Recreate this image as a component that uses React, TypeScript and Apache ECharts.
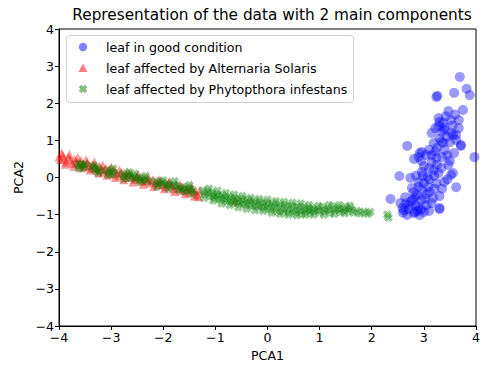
import React, { useEffect, useRef } from "react";
import * as echarts from "echarts";

const seriesNames = [
  "leaf in good condition",
  "leaf affected by Alternaria Solaris",
  "leaf affected by Phytopthora infestans",
];

const xTicks = [-4, -3, -2, -1, 0, 1, 2, 3, 4];
const yTicks = [-4, -3, -2, -1, 0, 1, 2, 3, 4];

const goodPoints: number[][] = [
  [3.69, 2.71], [3.82, 2.39], [3.88, 2.22], [3.26, 2.2], [3.58, 2.28], [3.75, 1.82],
  [3.47, 1.79], [3.67, 1.55], [3.28, 1.6], [3.52, 1.55], [3.37, 1.47], [3.22, 1.33],
  [3.34, 1.23], [3.52, 1.2], [3.67, 1.33], [3.62, 1.01], [3.71, 0.85], [2.68, 0.85],
  [3.19, 0.93], [3.37, 0.93], [2.96, 0.69], [3.05, 0.61], [2.9, 0.55], [2.81, 0.5],
  [3.24, 0.53], [3.58, 0.66], [3.97, 0.55], [3.47, 0.34], [3.34, 0.26], [3.19, 0.2],
  [2.96, 0.15], [3.07, 0.01], [3.52, 0.07], [2.53, 0.04], [2.74, -0.01], [2.9, -0.12],
  [3.24, -0.15], [3.39, -0.12], [3.62, -0.26], [2.77, -0.28], [2.96, -0.34], [3.11, -0.39],
  [3.3, -0.5], [2.64, -0.53], [2.83, -0.53], [2.36, -0.58], [3.02, -0.58], [2.55, -0.69],
  [2.72, -0.74], [2.9, -0.8], [3.15, -0.69], [3.3, -0.82], [2.62, -0.88], [2.81, -0.96],
  [3.0, -0.93], [2.68, -1.01], [2.92, -1.01], [3.15, 1.2], [3.62, 1.15], [3.71, 0.88],
  [2.92, 0.66], [3.15, 0.42], [3.28, 0.12], [3.56, 0.12], [3.05, -0.45], [2.87, -0.47],
  [2.59, -0.82], [2.83, -0.93], [3.3, -0.85], [3.24, 2.17], [3.39, 1.28], [3.56, 1.15],
  [3.34, 0.96], [2.7, -0.85], [2.75, -0.65], [2.85, -0.75], [2.95, -0.6], [3.05, -0.75],
  [3.1, -0.9], [2.8, -0.4], [2.9, -0.25], [3.0, -0.15], [3.1, -0.05], [3.2, 0.05],
  [2.85, 0.05], [3.0, 0.3], [3.1, 0.25], [3.25, 0.35], [3.35, 0.55], [3.45, 0.6],
  [3.1, 0.75], [3.25, 0.8], [3.3, 1.05], [3.45, 1.1], [3.4, 1.35], [3.55, 1.4],
  [3.3, 1.5], [3.42, 1.65], [3.6, 1.7], [2.65, -0.7], [2.6, -0.95], [2.95, -0.85],
  [3.2, -0.3], [3.35, -0.3], [3.45, -0.05], [2.95, 0.45], [3.15, 0.6], [3.4, 0.75],
  [3.5, 0.95], [2.78, -0.6], [2.88, -0.9], [3.08, -0.25], [3.18, -0.55], [2.98, 0.05],
  [3.22, 0.7], [3.28, 1.38], [3.5, 0.45],
];

const alternariaPoints: number[][] = [
  [-4.0, 0.55], [-3.97, 0.48], [-3.93, 0.6], [-3.9, 0.5], [-3.86, 0.42], [-3.82, 0.55],
  [-3.78, 0.47], [-3.74, 0.38], [-3.7, 0.5], [-3.66, 0.42], [-3.62, 0.35], [-3.58, 0.46],
  [-3.54, 0.38], [-3.5, 0.3], [-3.46, 0.4], [-3.42, 0.32], [-3.38, 0.25], [-3.34, 0.35],
  [-3.3, 0.27], [-3.26, 0.2], [-3.22, 0.3], [-3.18, 0.22], [-3.14, 0.15], [-3.1, 0.25],
  [-3.05, 0.18], [-3.0, 0.1], [-2.95, 0.2], [-2.9, 0.12], [-2.85, 0.05], [-2.8, 0.14],
  [-2.75, 0.06], [-2.7, 0.0], [-2.65, 0.1], [-2.6, 0.02], [-2.55, -0.05], [-2.5, 0.03],
  [-2.45, -0.04], [-2.4, -0.1], [-2.35, -0.02], [-2.3, -0.08], [-2.25, -0.15], [-2.2, -0.06],
  [-2.15, -0.13], [-2.1, -0.2], [-2.05, -0.1], [-2.0, -0.18], [-1.95, -0.25], [-1.9, -0.15],
  [-1.85, -0.22], [-1.8, -0.3], [-1.75, -0.2], [-1.7, -0.28], [-1.65, -0.35], [-1.6, -0.25],
  [-1.55, -0.33], [-1.5, -0.4], [-1.45, -0.3], [-1.4, -0.38], [-1.35, -0.45], [-1.3, -0.35],
  [-3.95, 0.66], [-3.88, 0.36], [-3.8, 0.62], [-3.72, 0.3], [-3.64, 0.54], [-3.56, 0.26],
  [-3.48, 0.48], [-3.4, 0.2], [-3.32, 0.42], [-3.24, 0.12], [-3.16, 0.34], [-3.08, 0.06],
  [-3.0, 0.28], [-2.92, 0.0], [-2.84, 0.2], [-2.76, -0.06], [-2.68, 0.14], [-2.58, -0.12],
  [-2.48, 0.08], [-2.38, -0.18], [-2.28, 0.0], [-2.18, -0.24], [-2.08, -0.06], [-1.98, -0.3],
  [-1.88, -0.1], [-1.78, -0.38], [-1.68, -0.18], [-1.58, -0.44], [-1.48, -0.26], [-1.4, -0.5],
  [-1.33, -0.52], [-0.62, -0.62],
];

const phytophthoraPoints: number[][] = [
  [-3.64, 0.38], [-3.6, 0.3], [-3.56, 0.35], [-3.52, 0.27], [-3.36, 0.28], [-3.31, 0.2],
  [-3.27, 0.25], [-3.22, 0.18], [-3.08, 0.2], [-3.03, 0.12], [-2.98, 0.16], [-2.94, 0.08],
  [-2.78, 0.1], [-2.73, 0.03], [-2.68, 0.07], [-2.63, -0.01], [-2.58, 0.04], [-2.53, -0.04],
  [-2.47, 0.0], [-2.42, -0.07], [-2.36, -0.03], [-2.3, -0.1], [-2.15, -0.1], [-2.1, -0.17],
  [-2.04, -0.13], [-1.98, -0.2], [-1.92, -0.16], [-1.86, -0.23], [-1.8, -0.19], [-1.72, -0.24],
  [-1.66, -0.3], [-1.6, -0.26], [-1.54, -0.33], [-1.48, -0.29], [-1.42, -0.36],
  [-1.24, -0.35], [-1.2, -0.45], [-1.15, -0.38], [-1.1, -0.5], [-1.06, -0.42], [-1.02, -0.55],
  [-0.98, -0.46], [-0.94, -0.52], [-0.9, -0.6], [-0.86, -0.48], [-0.82, -0.56], [-0.78, -0.64],
  [-0.74, -0.52], [-0.7, -0.6], [-0.66, -0.68], [-0.62, -0.55], [-0.58, -0.63], [-0.54, -0.71],
  [-0.5, -0.58], [-0.46, -0.66], [-0.42, -0.74], [-0.38, -0.6], [-0.34, -0.69], [-0.3, -0.77],
  [-0.26, -0.63], [-0.22, -0.72], [-0.18, -0.8], [-0.14, -0.66], [-0.1, -0.75], [-0.06, -0.83],
  [-0.02, -0.68], [0.02, -0.77], [0.06, -0.86], [0.1, -0.7], [0.14, -0.8], [0.18, -0.9],
  [0.22, -0.72], [0.26, -0.82], [0.3, -0.92], [0.34, -0.74], [0.38, -0.84], [0.42, -0.94],
  [0.46, -0.76], [0.5, -0.86], [0.54, -0.95], [0.58, -0.78], [0.62, -0.88], [0.66, -0.97],
  [0.7, -0.8], [0.74, -0.9], [0.78, -0.84], [0.82, -0.95], [0.86, -0.82], [0.9, -0.9],
  [0.95, -0.86], [1.0, -0.94], [1.05, -0.8], [1.1, -0.9], [1.15, -0.85], [1.2, -0.95],
  [1.25, -0.78], [1.3, -0.88], [1.35, -0.82], [1.4, -0.93], [1.45, -0.86], [1.5, -0.8],
  [1.55, -0.9], [1.6, -0.84], [1.72, -0.9], [1.78, -0.97], [1.85, -0.92], [1.92, -0.98],
  [1.97, -0.93], [2.3, -1.0], [2.32, -1.08],
  [-3.62, 0.24], [-3.5, 0.36], [-3.33, 0.32], [-3.25, 0.12], [-3.06, 0.07], [-2.96, 0.24],
  [-2.76, -0.04], [-2.66, 0.14], [-2.55, 0.1], [-2.45, -0.12], [-2.34, 0.04], [-2.12, -0.24],
  [-2.0, -0.08], [-1.9, -0.3], [-1.78, -0.1], [-1.7, -0.34], [-1.58, -0.38], [-1.5, -0.2],
  [-1.44, -0.44], [-1.22, -0.55], [-1.12, -0.3], [-1.04, -0.62], [-0.96, -0.36], [-0.88, -0.7],
  [-0.8, -0.42], [-0.72, -0.74], [-0.64, -0.46], [-0.56, -0.8], [-0.48, -0.5], [-0.4, -0.84],
  [-0.32, -0.55], [-0.24, -0.88], [-0.16, -0.58], [-0.08, -0.9], [0.0, -0.6], [0.08, -0.95],
  [0.16, -0.64], [0.24, -0.98], [0.32, -0.66], [0.4, -1.0], [0.48, -0.68], [0.56, -1.02],
  [0.64, -0.7], [0.72, -1.0], [0.8, -0.74], [0.88, -1.0], [0.98, -0.76], [1.08, -1.0],
  [1.18, -0.74], [1.28, -0.98], [1.38, -0.74], [1.48, -0.96], [1.58, -0.76], [1.65, -0.95],
];

const X_PATH =
  "path://M0,3 L3,0 L5,2 L7,0 L10,3 L8,5 L10,7 L7,10 L5,8 L3,10 L0,7 L2,5 Z";

const FONT = "DejaVu Sans";
const FS = 12.6;
const fmt = (v: number) => String(v).replace("-", "\u2212");

const COLORS = ["rgba(0,0,255,0.5)", "rgba(255,0,0,0.5)", "rgba(0,128,0,0.5)"];

export default function App() {
  const ref = useRef<HTMLDivElement>(null);
  useEffect(() => {
    if (!ref.current) return;
    const chart = echarts.init(ref.current, undefined, { renderer: "svg" });
    const axisCommon = {
      type: "value",
      interval: 1,
      nameLocation: "middle",
      nameTextStyle: { fontFamily: FONT, fontSize: FS, color: "#000" },
      splitLine: { show: false },
      axisLine: { show: true, onZero: false, lineStyle: { color: "#000", width: 1 } },
      axisTick: { show: true, length: 4, lineStyle: { color: "#000" } },
      axisLabel: {
        fontFamily: FONT,
        fontSize: FS,
        color: "#000",
        margin: 5,
        formatter: fmt,
        showMaxLabel: true,
        showMinLabel: true,
      },
    };

    // legend drawn manually (matplotlib style)
    const lx = 83;
    const rows = [47, 68, 89];
    const xPoly = (cx: number, cy: number, s: number) =>
      [
        [0, 3], [3, 0], [5, 2], [7, 0], [10, 3], [8, 5], [10, 7], [7, 10], [5, 8], [3, 10], [0, 7], [2, 5],
      ].map(([a, b]) => [cx + ((a - 5) * s) / 10, cy + ((b - 5) * s) / 10]);
    const legendGraphics: any[] = [
      {
        type: "rect",
        shape: { x: 66.5, y: 35.5, width: 287, height: 67, r: 3 },
        style: { fill: "rgba(255,255,255,0.8)", stroke: "#d0d0d0", lineWidth: 1 },
        z: 100,
      },
      {
        type: "circle",
        shape: { cx: lx, cy: rows[0], r: 4.2 },
        style: { fill: COLORS[0] },
        z: 101,
      },
      {
        type: "polygon",
        shape: { points: [[lx - 4.5, rows[1] + 4], [lx + 4.5, rows[1] + 4], [lx, rows[1] - 4.5]] },
        style: { fill: COLORS[1] },
        z: 101,
      },
      {
        type: "polygon",
        shape: { points: xPoly(lx, rows[2], 8.5) },
        style: { fill: COLORS[2] },
        z: 101,
      },
      ...seriesNames.map((n, i) => ({
        type: "text",
        x: 106,
        y: rows[i],
        style: {
          text: n,
          fontFamily: FONT,
          fontSize: FS,
          fill: "#000",
          verticalAlign: "middle",
          align: "left",
        },
        z: 101,
      })),
      {
        type: "text",
        x: 272,
        y: 15,
        style: {
          text: "Representation of the data with 2 main components",
          fontFamily: FONT,
          fontSize: 15.3,
          fill: "#000",
          align: "center",
          verticalAlign: "middle",
        },
        z: 101,
      },
    ];

    chart.setOption({
      animation: false,
      backgroundColor: "#ffffff",
      graphic: legendGraphics,
      grid: {
        left: 59,
        top: 29,
        width: 426,
        height: 297,
        show: true,
        borderColor: "#000",
        borderWidth: 1,
      },
      xAxis: {
        ...axisCommon,
        min: xTicks[0],
        max: xTicks[xTicks.length - 1],
        name: "PCA1",
        nameGap: 22,
      },
      yAxis: {
        ...axisCommon,
        min: yTicks[0],
        max: yTicks[yTicks.length - 1],
        name: "PCA2",
        nameGap: 34,
      },
      series: [
        {
          name: seriesNames[0],
          type: "scatter",
          symbol: "circle",
          symbolSize: 10,
          itemStyle: { color: COLORS[0] },
          data: goodPoints,
        },
        {
          name: seriesNames[1],
          type: "scatter",
          symbol: "triangle",
          symbolSize: 9,
          itemStyle: { color: COLORS[1] },
          data: alternariaPoints,
        },
        {
          name: seriesNames[2],
          type: "scatter",
          symbol: X_PATH,
          symbolSize: 9,
          itemStyle: { color: COLORS[2] },
          data: phytophthoraPoints,
        },
      ],
    });
    return () => chart.dispose();
  }, []);
  return (
    <div
      ref={ref}
      style={{ position: "absolute", left: 0, top: 0, width: 483, height: 369 }}
    />
  );
}
